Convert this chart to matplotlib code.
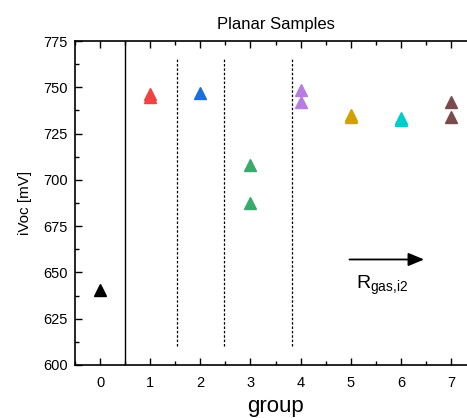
import matplotlib.pyplot as plt
from matplotlib.ticker import MultipleLocator

plt.rcParams['font.family'] = ['Liberation Sans', 'DejaVu Sans']
plt.rcParams['mathtext.fontset'] = 'custom'
plt.rcParams['mathtext.rm'] = 'Liberation Sans'
plt.rcParams['mathtext.it'] = 'Liberation Sans:italic'

# data
groups = [0, 1, 2, 3, 4, 5, 6, 7]
ivoc = [[640.5], [745, 746.5], [747], [708, 687.5], [748.5, 742], [735, 734],
        [733.5, 732.5], [742, 734]]
colors = ['black', '#f04242', '#1a6fdb', '#3aaa6c', '#b57ee0', '#d49f00',
          '#00cccc', '#7b4b4b']
dividers = [1.53, 2.47, 3.82]

fig = plt.figure(figsize=(4.67, 4.18), dpi=100)
ax = fig.add_axes([0.1606, 0.1268, 0.8587, 0.775])

for g, vals, c in zip(groups, ivoc, colors):
    ax.plot([g] * len(vals), vals, linestyle='none', marker='^', ms=8.5,
            color=c, mec=c)

ax.axvline(0.5, color='black', lw=1)
for xd in dividers:
    ax.plot([xd, xd], [610, 766], color='black', lw=0.9, ls=(0, (2, 1.5)))

ax.annotate('', xy=(6.52, 657), xytext=(4.92, 657),
            arrowprops=dict(arrowstyle='-|>,head_length=0.6,head_width=0.25',
                            color='black', lw=1.3, mutation_scale=16))
ax.text(5.1, 643, r'R$_{\mathrm{gas{,}i2}}$', fontsize=14, va='center')

ax.set_xlim(-0.5, 7.5)
ax.set_ylim(600, 775)
ax.xaxis.set_major_locator(MultipleLocator(1))
ax.xaxis.set_minor_locator(MultipleLocator(0.5))
ax.yaxis.set_major_locator(MultipleLocator(25))
ax.yaxis.set_minor_locator(MultipleLocator(12.5))
ax.tick_params(which='both', direction='in', top=True, right=False,
               labelsize=10.5, width=1)
ax.tick_params(axis='x', pad=8)
ax.tick_params(axis='y', pad=5)
ax.tick_params(which='major', length=5)
ax.tick_params(which='minor', length=3)
ax.spines['right'].set_visible(False)
for s in ['left', 'bottom', 'top']:
    ax.spines[s].set_linewidth(1.2)

ax.set_xlabel('group', fontsize=16, labelpad=4)
ax.set_ylabel('iVoc [mV]', fontsize=11, labelpad=8)
ax.set_title('Planar Samples', fontsize=12, pad=9)

plt.savefig('out.png', dpi=100)
